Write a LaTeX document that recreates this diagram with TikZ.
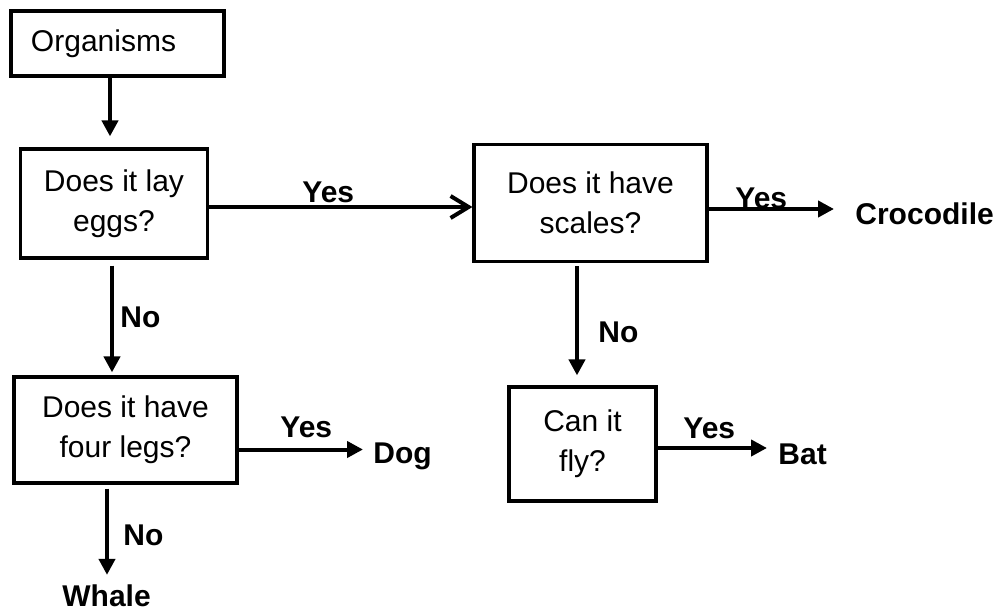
\documentclass[tikz,border=0pt]{standalone}
\usepackage{fontspec}
\setmainfont{Liberation Sans}
\usetikzlibrary{arrows.meta}
\begin{document}
\begin{tikzpicture}[x=0.5pt,y=-0.5pt,
  font=\fontsize{15}{20}\selectfont,
  qbox/.style={draw, line width=1.6pt, align=center, inner sep=0pt},
  term/.style={font=\fontsize{15}{20}\selectfont\bfseries, inner sep=0pt, anchor=base west},
  lbl/.style={font=\fontsize{15}{20}\selectfont\bfseries, inner sep=0pt, anchor=base west},
  arr/.style={line width=2pt, -{Triangle[length=8pt,width=8pt]}},
  openarr/.style={line width=2pt, -{Straight Barb[length=9pt,width=11pt,line width=2pt]}}]
  \useasboundingbox (0,0) rectangle (1005,610);
  \fill[white] (0,0) rectangle (1005,610);

  % question boxes
  \node[qbox, minimum width=106.5pt, minimum height=32.5pt,
        text width=86.5pt, align=left, inner xsep=10pt] (org) at (117.5,43.5) {Organisms};
  \node[qbox, minimum width=93.5pt, minimum height=54.5pt] (eggs) at (114,203.5) {Does it lay\\eggs?};
  \node[qbox, minimum width=116.5pt, minimum height=58.75pt] (scales) at (590.5,203) {Does it have\\scales?};
  \node[qbox, minimum width=111.5pt, minimum height=53pt] (legs) at (125.5,430) {Does it have\\four legs?};
  \node[qbox, minimum width=73.5pt, minimum height=57pt] (fly) at (582.5,444) {Can it\\fly?};

  % answers
  \node[term] (croc) at (855,224) {Crocodile};
  \node[term] (dog) at (373,463) {Dog};
  \node[term] (bat) at (778,464) {Bat};
  \node[term] (whale) at (62,606) {Whale};

  % connectors
  \draw[arr, shorten >=5.5pt] ([xshift=-3.75pt]org.south) -- ([xshift=-3.75pt]org.south |- eggs.north);
  \draw[openarr] ([yshift=-1.75pt]eggs.east) -- ([yshift=-1.75pt]eggs.east -| scales.west);
  \draw[arr, shorten >=10.5pt] ([yshift=-3pt]scales.east) -- ([yshift=-3pt]scales.east -| croc.west);
  \draw[arr, shorten <=3pt, shorten >=1.5pt] ([xshift=-1pt]eggs.south) -- ([xshift=-1pt]eggs.south |- legs.north);
  \draw[arr, shorten >=5pt] ([yshift=-9.75pt]legs.east) -- ([yshift=-9.75pt]legs.east -| dog.west);
  \draw[arr, shorten <=2pt, shorten >=4.5pt] ([xshift=-9.25pt]legs.south) -- ([xshift=-9.25pt]legs.south |- whale.north);
  \draw[arr, shorten <=1.5pt, shorten >=5pt] ([xshift=-6.75pt]scales.south) -- ([xshift=-6.75pt]scales.south |- fly.north);
  \draw[arr, shorten >=5.5pt] ([yshift=-2pt]fly.east) -- ([yshift=-2pt]fly.east -| bat.west);

  % branch labels
  \node[lbl] (yes1) at (302,202) {Yes};
  \node[lbl] (yes2) at (735,208) {Yes};
  \node[lbl] (yes3) at (280,437) {Yes};
  \node[lbl] (yes4) at (683,438) {Yes};
  \node[lbl] (no1) at (120,327) {No};
  \node[lbl] (no2) at (123,545) {No};
  \node[lbl] (no3) at (598,342) {No};
\end{tikzpicture}
\end{document}
